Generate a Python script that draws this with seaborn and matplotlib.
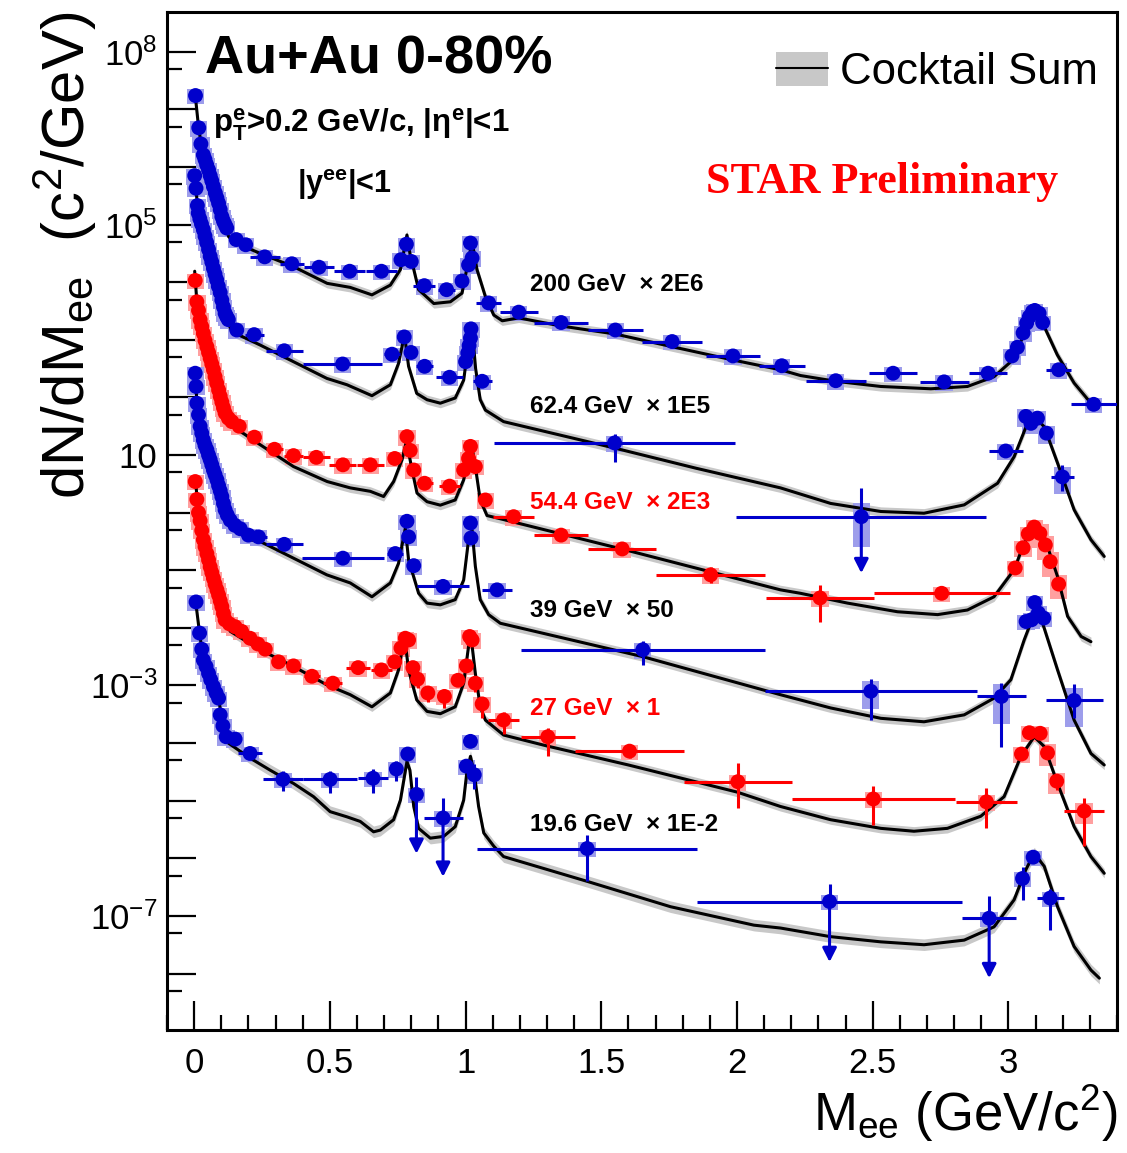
import numpy as np
import matplotlib
matplotlib.use("Agg")
import matplotlib.pyplot as plt
import seaborn as sns
from matplotlib.patches import Rectangle, Patch
from matplotlib.lines import Line2D
from matplotlib.legend_handler import HandlerTuple
from matplotlib.ticker import FixedLocator, FuncFormatter, NullFormatter

nan = np.nan

# Dielectron mass spectra, Au+Au 0-80%, |y_ee|<1.
# Values are log10(dN/dM_ee) after the scale factor quoted in each label.
# hw = half bin width (GeV/c^2), eup/edn = relative stat. error, sys = relative syst. error,
# tip = log10 of the arrow end for points whose lower error reaches zero.

# ---- 200 GeV x 2E6 ----
m200 = [0.005, 0.017, 0.025, 0.034, 0.040, 0.046, 0.053, 0.059, 0.065, 0.071, 0.078, 0.084, 0.090, 0.096,
        0.102, 0.108, 0.114, 0.120, 0.155, 0.190, 0.260, 0.360, 0.460, 0.573, 0.690, 0.762, 0.782, 0.800,
        0.848, 0.930, 0.987, 1.011, 1.018, 1.024, 1.085, 1.196, 1.352, 1.552, 1.761, 1.985, 2.165, 2.364,
        2.575, 2.763, 2.925, 3.013, 3.033, 3.054, 3.067, 3.077, 3.089, 3.097, 3.113, 3.126, 3.185, 3.314]
lg200 = [7.24, 6.68, 6.40, 6.21, 6.13, 6.04, 5.95, 5.85, 5.76, 5.66, 5.55, 5.46, 5.37, 5.26,
         5.14, 5.06, 5.00, 4.94, 4.74, 4.65, 4.44, 4.32, 4.26, 4.19, 4.19, 4.39, 4.66, 4.36,
         3.94, 3.87, 4.02, 4.30, 4.68, 4.42, 3.64, 3.48, 3.30, 3.17, 2.97, 2.72, 2.55, 2.29,
         2.42, 2.27, 2.42, 2.72, 2.87, 3.12, 3.29, 3.40, 3.49, 3.51, 3.46, 3.30, 2.48, 1.88]
hw200 = [0] * 18 + [0, 0, 0.055, 0.043, 0.055, 0.058, 0.058, 0, 0, 0, 0.04, 0.03, 0, 0, 0, 0, 0.047,
                    0.07, 0.10, 0.10, 0.11, 0.10, 0.085, 0.11, 0.09, 0.09, 0.07,
                    0, 0, 0, 0, 0, 0, 0, 0, 0, 0.045, 0.085]
cm200 = [0.005, 0.017, 0.034, 0.060, 0.090, 0.115, 0.127, 0.155, 0.243, 0.366, 0.490, 0.575, 0.655, 0.723,
         0.760, 0.784, 0.795, 0.827, 0.883, 0.944, 0.987, 1.011, 1.024, 1.042, 1.073, 1.104, 1.135, 1.196,
         1.352, 1.552, 1.761, 1.985, 2.160, 2.234, 2.364, 2.530, 2.714, 2.849, 2.947, 3.009, 3.058, 3.095,
         3.126, 3.180, 3.242, 3.304, 3.330]
clg200 = [7.20, 6.66, 6.18, 5.80, 5.35, 4.98, 4.79, 4.68, 4.50, 4.27, 3.98, 3.91, 3.78, 3.95,
          4.22, 4.82, 4.50, 3.87, 3.63, 3.66, 3.81, 4.39, 4.71, 4.22, 3.75, 3.43, 3.33, 3.38,
          3.24, 3.10, 2.88, 2.65, 2.48, 2.38, 2.28, 2.19, 2.15, 2.19, 2.36, 2.62, 3.09, 3.46,
          3.29, 2.74, 2.25, 1.90, 1.82]

# ---- 62.4 GeV x 1E5 ----
m62 = [0.002, 0.007, 0.012, 0.015, 0.021, 0.027, 0.034, 0.040, 0.046, 0.053, 0.059, 0.065, 0.071, 0.077,
       0.083, 0.089, 0.096, 0.102, 0.108, 0.114, 0.120, 0.126, 0.157, 0.221, 0.332, 0.547, 0.729, 0.774,
       0.799, 0.849, 0.941, 1.000, 1.008, 1.013, 1.018, 1.020, 1.061, 1.549, 2.458, 2.990, 3.064, 3.083,
       3.107, 3.140, 3.199]
lg62 = [5.85, 5.63, 5.33, 5.20, 5.10, 5.01, 4.91, 4.80, 4.69, 4.57, 4.45, 4.35, 4.24, 4.14,
        4.04, 3.93, 3.82, 3.69, 3.57, 3.46, 3.40, 3.35, 3.17, 3.09, 2.81, 2.58, 2.75, 3.05,
        2.78, 2.54, 2.35, 2.62, 2.77, 2.90, 3.03, 3.19, 2.28, 1.21, -0.07, 1.07, 1.67, 1.55,
        1.64, 1.38, 0.62]
hw62 = [0] * 22 + [0, 0.035, 0.068, 0.145, 0.03, 0, 0, 0.03, 0.05, 0, 0, 0, 0, 0, 0.035, 0.445, 0.46,
                   0.063, 0, 0, 0, 0, 0.043]
eup62 = [0] * 37 + [0.45, 2.2, 0, 0, 0, 0, 0, 0.58]
edn62 = [0] * 37 + [0.53, 0, 0, 0, 0, 0, 0, 0.44]
sys62 = [0.3] * 38 + [0.7, 0.3, 0.35, 0.35, 0.35, 0.35, 0.5]
tip62 = [nan] * 38 + [-1.05] + [nan] * 6
cm62 = [0.003, 0.012, 0.034, 0.059, 0.083, 0.102, 0.120, 0.139, 0.243, 0.366, 0.489, 0.563, 0.655, 0.723,
        0.753, 0.775, 0.790, 0.820, 0.858, 0.907, 0.962, 0.993, 1.011, 1.024, 1.037, 1.054, 1.073, 1.140,
        1.550, 1.850, 2.160, 2.345, 2.530, 2.689, 2.837, 2.960, 3.021, 3.070, 3.095, 3.132, 3.181, 3.242,
        3.304, 3.353]
clg62 = [5.85, 5.33, 4.91, 4.45, 4.04, 3.69, 3.36, 3.14, 2.91, 2.62, 2.33, 2.22, 2.03, 2.22,
         2.59, 3.09, 2.54, 2.07, 1.96, 1.90, 1.99, 2.30, 2.94, 3.20, 2.50, 1.96, 1.78, 1.58,
         1.12, 0.77, 0.43, 0.16, 0.02, -0.01, 0.135, 0.51, 0.97, 1.55, 1.67, 1.49, 0.86, 0.05,
         -0.47, -0.76]

# ---- 54.4 GeV x 2E3 ----
m54 = [0.004, 0.010, 0.016, 0.022, 0.028, 0.034, 0.040, 0.047, 0.053, 0.059, 0.065, 0.071, 0.077, 0.083,
       0.090, 0.096, 0.102, 0.108, 0.114, 0.126, 0.139, 0.166, 0.222, 0.296, 0.366, 0.450, 0.548, 0.649,
       0.739, 0.784, 0.796, 0.809, 0.849, 0.941, 0.993, 1.011, 1.018, 1.036, 1.073, 1.177, 1.352, 1.577,
       1.903, 2.306, 2.754, 3.025, 3.054, 3.073, 3.095, 3.116, 3.136, 3.154, 3.185]
lg54 = [4.03, 3.66, 3.51, 3.35, 3.23, 3.11, 2.99, 2.88, 2.78, 2.68, 2.58, 2.48, 2.36, 2.25,
        2.13, 2.02, 1.92, 1.82, 1.73, 1.64, 1.58, 1.50, 1.31, 1.10, 0.99, 0.96, 0.83, 0.83,
        0.94, 1.32, 1.08, 0.74, 0.51, 0.46, 0.74, 0.94, 1.15, 0.80, 0.22, -0.07, -0.39, -0.63,
        -1.08, -1.48, -1.40, -0.96, -0.61, -0.37, -0.25, -0.36, -0.56, -0.85, -1.24]
hw54 = [0] * 22 + [0.025, 0.03, 0.035, 0.05, 0.05, 0.05, 0.025, 0, 0, 0, 0.03, 0.04, 0, 0, 0, 0, 0.015,
                   0.075, 0.10, 0.125, 0.20, 0.20, 0.25, 0, 0, 0, 0, 0, 0, 0, 0.02]
eup54 = [0] * 40 + [0.12, 0.14, 0.35, 0.66, 0, 0, 0, 0, 0, 0, 0, 0, 0.1]
edn54 = [0] * 40 + [0.12, 0.14, 0.28, 0.62, 0, 0, 0, 0, 0, 0, 0, 0, 0.1]
sys54 = [0.3] * 49 + [0.45, 0.45, 0.45, 0.45]
cm54 = [0.002, 0.010, 0.022, 0.047, 0.071, 0.096, 0.114, 0.126, 0.243, 0.366, 0.490, 0.575, 0.649, 0.698,
        0.735, 0.766, 0.782, 0.803, 0.821, 0.858, 0.907, 0.962, 0.993, 1.015, 1.022, 1.036, 1.054, 1.079,
        1.140, 1.600, 2.160, 2.234, 2.407, 2.591, 2.739, 2.849, 2.947, 3.021, 3.058, 3.095, 3.132, 3.181,
        3.218, 3.268, 3.304]
clg54 = [4.19, 3.66, 3.35, 2.88, 2.48, 2.02, 1.73, 1.55, 1.18, 0.80, 0.54, 0.43, 0.37, 0.28,
         0.54, 0.92, 1.24, 0.74, 0.34, 0.19, 0.13, 0.22, 0.57, 1.03, 1.18, 0.80, 0.22, -0.05,
         -0.12, -0.66, -1.34, -1.40, -1.57, -1.72, -1.77, -1.69, -1.46, -0.99, -0.53, -0.24, -0.42, -1.11,
         -1.80, -2.15, -2.24]

# ---- 39 GeV x 50 ----
m39 = [0.004, 0.007, 0.010, 0.016, 0.022, 0.028, 0.034, 0.040, 0.047, 0.053, 0.059, 0.065, 0.071, 0.077,
       0.084, 0.090, 0.096, 0.102, 0.108, 0.114, 0.122, 0.133, 0.150, 0.170, 0.200, 0.237, 0.332, 0.548,
       0.741, 0.784, 0.790, 0.809, 0.917, 1.018, 1.020, 1.116, 1.653, 2.493, 2.974, 3.065, 3.085, 3.097,
       3.110, 3.130, 3.242]
lg39 = [2.42, 2.19, 1.90, 1.70, 1.50, 1.38, 1.26, 1.17, 1.09, 1.00, 0.92, 0.83, 0.74, 0.66,
        0.57, 0.47, 0.38, 0.28, 0.16, 0.05, -0.04, -0.13, -0.22, -0.28, -0.39, -0.42, -0.55, -0.79,
        -0.71, -0.15, -0.42, -0.92, -1.28, -0.18, -0.44, -1.34, -2.38, -3.10, -3.19, -1.89, -1.86, -1.56,
        -1.74, -1.83, -3.26]
hw39 = [0] * 25 + [0.03, 0.068, 0.15, 0.03, 0, 0, 0, 0.095, 0, 0, 0.055, 0.45, 0.39, 0.09,
                   0, 0, 0, 0, 0, 0.105]
eup39 = [0] * 36 + [0.41, 0.66, 0.70, 0, 0, 0, 0, 0, 0.9]
edn39 = [0] * 36 + [0.45, 0.68, 0.87, 0, 0, 0, 0, 0, 0.51]
sys39 = [0.3] * 37 + [0.5, 0.67, 0.3, 0.3, 0.3, 0.3, 0.3, 0.65]
cm39 = [0.004, 0.010, 0.022, 0.034, 0.059, 0.084, 0.102, 0.114, 0.126, 0.206, 0.243, 0.366, 0.489, 0.575,
        0.655, 0.723, 0.753, 0.778, 0.790, 0.827, 0.858, 0.907, 0.962, 0.993, 1.011, 1.024, 1.036, 1.054,
        1.085, 1.128, 1.653, 2.160, 2.345, 2.530, 2.689, 2.837, 2.947, 3.009, 3.058, 3.089, 3.126, 3.181,
        3.242, 3.304, 3.353]
clg39 = [2.45, 1.90, 1.50, 1.26, 0.92, 0.57, 0.28, 0.05, -0.13, -0.47, -0.50, -0.79, -1.08, -1.22,
         -1.46, -1.22, -0.88, -0.27, -0.82, -1.40, -1.57, -1.60, -1.51, -1.17, -0.47, -0.30, -0.93, -1.51,
         -1.77, -1.92, -2.50, -3.16, -3.39, -3.57, -3.63, -3.51, -3.22, -2.90, -2.21, -1.83, -1.92, -2.73,
         -3.60, -4.18, -4.38]

# ---- 27 GeV x 1 ----
m27 = [0.004, 0.010, 0.016, 0.022, 0.028, 0.034, 0.040, 0.047, 0.053, 0.059, 0.065, 0.071, 0.077, 0.084,
       0.090, 0.096, 0.102, 0.108, 0.114, 0.130, 0.151, 0.175, 0.206, 0.235, 0.262, 0.311, 0.366, 0.434,
       0.511, 0.604, 0.690, 0.739, 0.762, 0.778, 0.790, 0.806, 0.823, 0.861, 0.922, 0.972, 1.003, 1.015,
       1.024, 1.036, 1.061, 1.140, 1.303, 1.604, 2.003, 2.502, 2.919, 3.048, 3.077, 3.117, 3.144, 3.178,
       3.279]
lg27 = [0.54, 0.23, 0.00, -0.14, -0.31, -0.47, -0.59, -0.71, -0.82, -0.94, -1.04, -1.14, -1.24, -1.34,
        -1.43, -1.53, -1.63, -1.75, -1.86, -1.93, -1.98, -2.06, -2.18, -2.28, -2.37, -2.59, -2.66, -2.84,
        -2.96, -2.69, -2.73, -2.59, -2.35, -2.18, -2.21, -2.69, -2.89, -3.13, -3.19, -2.91, -2.66, -2.15,
        -2.21, -2.96, -3.32, -3.60, -3.89, -4.14, -4.67, -4.97, -5.02, -4.19, -3.82, -3.83, -4.17, -4.66,
        -5.18]
hw27 = [0] * 27 + [0.03, 0.035, 0.045, 0.04, 0, 0, 0, 0, 0, 0, 0.02, 0.02, 0, 0, 0, 0, 0, 0,
                   0.058, 0.10, 0.20, 0.20, 0.30, 0.112, 0, 0, 0, 0, 0, 0.074]
eup27 = [0] * 27 + [0.2, 0.32, 0.1, 0.1, 0, 0, 0, 0, 0.1, 0.26, 0.26, 0.26, 0, 0, 0, 0, 0.26, 0.26,
                    0.38, 0.41, 0.26, 1.14, 0.66, 0.74, 0.15, 0.1, 0.1, 0.15, 0.2, 0.70]
edn27 = [0] * 27 + [0.17, 0.24, 0.1, 0.1, 0, 0, 0, 0, 0.15, 0.29, 0.29, 0.37, 0, 0, 0, 0, 0.29, 0.44,
                    0.42, 0.53, 0.24, 0.65, 0.64, 0.65, 0.2, 0.1, 0.1, 0.2, 0.3, 0.75]
sys27 = [0.3] * 51 + [0.3, 0.3, 0.3, 0.4, 0.4, 0.4]
cm27 = [0.004, 0.016, 0.034, 0.059, 0.084, 0.102, 0.114, 0.133, 0.243, 0.366, 0.489, 0.575, 0.655, 0.723,
        0.753, 0.775, 0.790, 0.820, 0.858, 0.907, 0.962, 0.993, 1.011, 1.020, 1.036, 1.054, 1.073, 1.140,
        1.300, 1.600, 2.000, 2.160, 2.345, 2.530, 2.652, 2.775, 2.898, 2.984, 3.046, 3.095, 3.132, 3.181,
        3.242, 3.304, 3.353]
clg27 = [0.60, 0.00, -0.47, -0.94, -1.34, -1.63, -1.86, -2.06, -2.38, -2.67, -2.99, -3.16, -3.37, -3.13,
         -2.73, -2.15, -2.73, -3.25, -3.45, -3.49, -3.37, -2.96, -2.32, -2.15, -2.79, -3.37, -3.60, -3.86,
         -4.05, -4.38, -4.85, -5.10, -5.33, -5.48, -5.53, -5.48, -5.27, -4.93, -4.23, -3.89, -4.06, -4.70,
         -5.45, -5.97, -6.26]

# ---- 19.6 GeV x 1E-2 ----
m19 = [0.007, 0.020, 0.028, 0.034, 0.044, 0.053, 0.061, 0.071, 0.081, 0.090, 0.096, 0.106, 0.118, 0.151,
       0.206, 0.327, 0.501, 0.659, 0.745, 0.787, 0.819, 0.917, 1.003, 1.018, 1.032, 1.448, 2.341, 2.929,
       3.052, 3.091, 3.154]
lg19 = [-1.55, -2.09, -2.37, -2.56, -2.67, -2.79, -2.90, -3.02, -3.13, -3.22, -3.51, -3.70, -3.89, -3.93,
        -4.18, -4.63, -4.63, -4.61, -4.45, -4.19, -4.89, -5.30, -4.40, -3.97, -4.55, -5.83, -6.75, -7.04,
        -6.35, -5.98, -6.69]
hw19 = [0] * 14 + [0.045, 0.075, 0.10, 0.054, 0, 0, 0, 0.072, 0, 0, 0, 0.406, 0.487, 0.10, 0, 0, 0.05]
eup19 = [0] * 15 + [0.38, 0.41, 0.45, 0.38, 0, 1.04, 1.19, 0, 0, 0.51, 0.74, 1.04, 1.40, 0.58, 0, 0.45]
edn19 = [0] * 15 + [0.38, 0.41, 0.45, 0.38, 0, 0, 0, 0, 0, 0.44, 0.73, 0, 0, 0.58, 0, 0.72]
tip19 = [nan] * 20 + [-5.92, -6.32] + [nan] * 4 + [-7.80, -8.08] + [nan] * 3
cm19 = [0.007, 0.020, 0.034, 0.061, 0.090, 0.106, 0.126, 0.206, 0.280, 0.366, 0.440, 0.501, 0.563, 0.612,
        0.661, 0.686, 0.735, 0.760, 0.784, 0.795, 0.809, 0.827, 0.870, 0.919, 0.962, 0.993, 1.005, 1.018,
        1.032, 1.048, 1.067, 1.104, 1.140, 1.448, 1.755, 2.062, 2.160, 2.345, 2.530, 2.689, 2.837, 2.947,
        3.021, 3.064, 3.095, 3.132, 3.181, 3.242, 3.304, 3.335]
clg19 = [-1.60, -2.09, -2.56, -2.90, -3.22, -3.70, -4.00, -4.26, -4.47, -4.70, -4.93, -5.19, -5.28, -5.36,
         -5.54, -5.51, -5.33, -4.99, -4.32, -4.47, -5.10, -5.48, -5.65, -5.62, -5.45, -4.99, -4.49, -4.23,
         -4.52, -5.10, -5.56, -5.79, -5.97, -6.40, -6.84, -7.16, -7.21, -7.36, -7.45, -7.50, -7.42, -7.19,
         -6.72, -6.20, -5.91, -6.14, -6.84, -7.53, -7.94, -8.08]

labels = ["200 GeV  \u00d7 2E6", "62.4 GeV  \u00d7 1E5", "54.4 GeV  \u00d7 2E3",
          "39 GeV  \u00d7 50", "27 GeV  \u00d7 1", "19.6 GeV  \u00d7 1E-2"]

# ---------------- style ----------------
sns.set_theme(style="ticks")
plt.rcParams.update({
    "font.family": ["Liberation Sans", "DejaVu Sans"],
    "mathtext.fontset": "custom",
    "mathtext.rm": "Liberation Sans",
    "mathtext.it": "Liberation Sans:italic",
    "mathtext.bf": "Liberation Sans:bold",
    "axes.edgecolor": "black",
    "axes.linewidth": 2.2,
    "xtick.color": "black",
    "ytick.color": "black",
    "text.color": "black",
})

BLUE, RED = "#0000cc", "#ff0000"
BLUE_BOX, RED_BOX = "#9d9deb", "#ff9f9f"
BAND = "#c8c8c8"
SYS_HALF = 0.032

W, H = 1127, 1153
fig = plt.figure(figsize=(W / 100, H / 100), dpi=100)
ax = fig.add_axes([167 / W, 1 - 1030 / H, 950 / W, 1018 / H])
ax.set_yscale("log")


def cocktail(m, lg, width=0.08):
    y = 10.0 ** np.asarray(lg)
    f = 10.0 ** width
    ax.fill_between(m, y / f, y * f, color=BAND, lw=0, zorder=1)
    sns.lineplot(x=m, y=y, ax=ax, color="black", lw=2.2, sort=False, estimator=None, zorder=3)


def spectrum(m, lg, color, box, hw=None, eup=None, edn=None, sysf=None, tip=None):
    m = np.asarray(m, float)
    y = 10.0 ** np.asarray(lg)
    n = len(m)
    hw = np.zeros(n) if hw is None else np.asarray(hw, float)
    eup = np.zeros(n) if eup is None else np.asarray(eup, float)
    edn = np.zeros(n) if edn is None else np.asarray(edn, float)
    sysf = np.full(n, 0.3) if sysf is None else np.asarray(sysf, float)
    tip = np.full(n, np.nan) if tip is None else np.asarray(tip, float)
    for xi, yi, s in zip(m, y, sysf):
        ax.add_patch(Rectangle((xi - SYS_HALF, yi * (1 - s)), 2 * SYS_HALF, 2 * s * yi,
                               facecolor=box, edgecolor="none", zorder=2))
    ax.errorbar(m, y, xerr=hw, yerr=[y * edn, y * eup], fmt="none", ecolor=color,
                elinewidth=2.2, capsize=0, zorder=4)
    for xi, yi, t in zip(m, y, tip):
        if np.isfinite(t):
            ax.annotate("", xy=(xi, 10.0 ** t), xytext=(xi, yi), zorder=4,
                        arrowprops=dict(arrowstyle="-|>,head_length=0.55,head_width=0.28",
                                        color=color, lw=2.2, shrinkA=0, shrinkB=0,
                                        mutation_scale=15))
    sns.scatterplot(x=m, y=y, ax=ax, color=color, s=115, edgecolor="none", linewidth=0,
                    zorder=5, legend=False)


cocktail(cm200, clg200)
cocktail(cm62, clg62)
cocktail(cm54, clg54)
cocktail(cm39, clg39)
cocktail(cm27, clg27)
cocktail(cm19, clg19, width=0.1)

spectrum(m200, lg200, BLUE, BLUE_BOX, hw=hw200)
spectrum(m62, lg62, BLUE, BLUE_BOX, hw=hw62, eup=eup62, edn=edn62, sysf=sys62, tip=tip62)
spectrum(m54, lg54, RED, RED_BOX, hw=hw54, eup=eup54, edn=edn54, sysf=sys54)
spectrum(m39, lg39, BLUE, BLUE_BOX, hw=hw39, eup=eup39, edn=edn39, sysf=sys39)
spectrum(m27, lg27, RED, RED_BOX, hw=hw27, eup=eup27, edn=edn27, sysf=sys27)
spectrum(m19, lg19, BLUE, BLUE_BOX, hw=hw19, eup=eup19, edn=edn19, tip=tip19)

# ---------------- axes ----------------
ax.set_xlim(-0.1, 3.4)
ax.set_ylim(10 ** -8.98, 10 ** 8.69)
ax.set_xlabel("")
ax.set_ylabel("")

ax.set_xticks([0, 0.5, 1, 1.5, 2, 2.5, 3])
ax.set_xticklabels(["0", "0.5", "1", "1.5", "2", "2.5", "3"])
ax.set_xticks(np.arange(-0.1, 3.41, 0.1), minor=True)

shown = {8: r"$10^{8}$", 5: r"$10^{5}$", 1: "10", -3: r"$10^{-3}$", -7: r"$10^{-7}$"}
ax.yaxis.set_major_locator(FixedLocator([10.0 ** k for k in range(-9, 10)]))
ax.yaxis.set_minor_locator(FixedLocator([5 * 10.0 ** k for k in range(-10, 9)]))
ax.yaxis.set_major_formatter(FuncFormatter(lambda v, p: shown.get(int(round(np.log10(v))), "")))
ax.yaxis.set_minor_formatter(NullFormatter())

ax.tick_params(which="major", direction="in", length=21, width=1.6, labelsize=25)
ax.tick_params(which="minor", direction="in", length=11, width=1.6)
ax.tick_params(axis="x", pad=12)
ax.tick_params(axis="y", pad=7)
ax.tick_params(top=False, right=False)
for s in ax.spines.values():
    s.set_visible(True)
    s.set_linewidth(2.2)

# ---------------- text ----------------
fig.text(205 / W, 1 - 74 / H, "Au+Au 0-80%", fontsize=39, fontweight="bold", va="baseline")
fig.text(213 / W, 1 - 132 / H,
         r"$\mathbf{p}_{\mathbf{T}}^{\mathbf{e}}$>0.2 GeV/c, |$\mathbf{\eta}^{\mathbf{e}}$|<1",
         fontsize=22.5, fontweight="bold", va="baseline")
fig.text(297 / W, 1 - 193 / H, r"|y$^{\mathbf{ee}}$|<1", fontsize=22, fontweight="bold", va="baseline")
fig.text(706 / W, 1 - 193 / H, "STAR Preliminary", color=RED, fontsize=31.8, fontweight="bold",
         family=["Liberation Serif", "DejaVu Serif"], va="baseline")

label_pos = [291, 413, 509, 617, 715, 831]
label_col = ["black", "black", RED, "black", RED, "black"]
for txt, yb, col in zip(labels, label_pos, label_col):
    fig.text(530 / W, 1 - yb / H, txt, fontsize=17.5, fontweight="bold", color=col, va="baseline")

handle = (Patch(facecolor=BAND, edgecolor="none"), Line2D([], [], color="black", lw=1.5))
ax.legend([handle], ["Cocktail Sum"], handler_map={tuple: HandlerTuple(ndivide=1, pad=0)},
          loc="upper left", bbox_to_anchor=(776 / W, 1 - 52 / H), bbox_transform=fig.transFigure,
          frameon=False, fontsize=31.5, handlelength=1.19, handleheight=0.8, handletextpad=0.27,
          borderpad=0, borderaxespad=0)

fig.text(0.058, 1 - 12 / H, r"dN/dM$_{\mathrm{ee}}$  (c$^{2}$/GeV)", rotation=90, fontsize=43,
         ha="center", va="top")
fig.text(1117 / W, 1 - 1131 / H, r"M$_{\mathrm{ee}}$ (GeV/c$^{2}$)", fontsize=38,
         ha="right", va="baseline")

fig.savefig("out.png", dpi=100)
